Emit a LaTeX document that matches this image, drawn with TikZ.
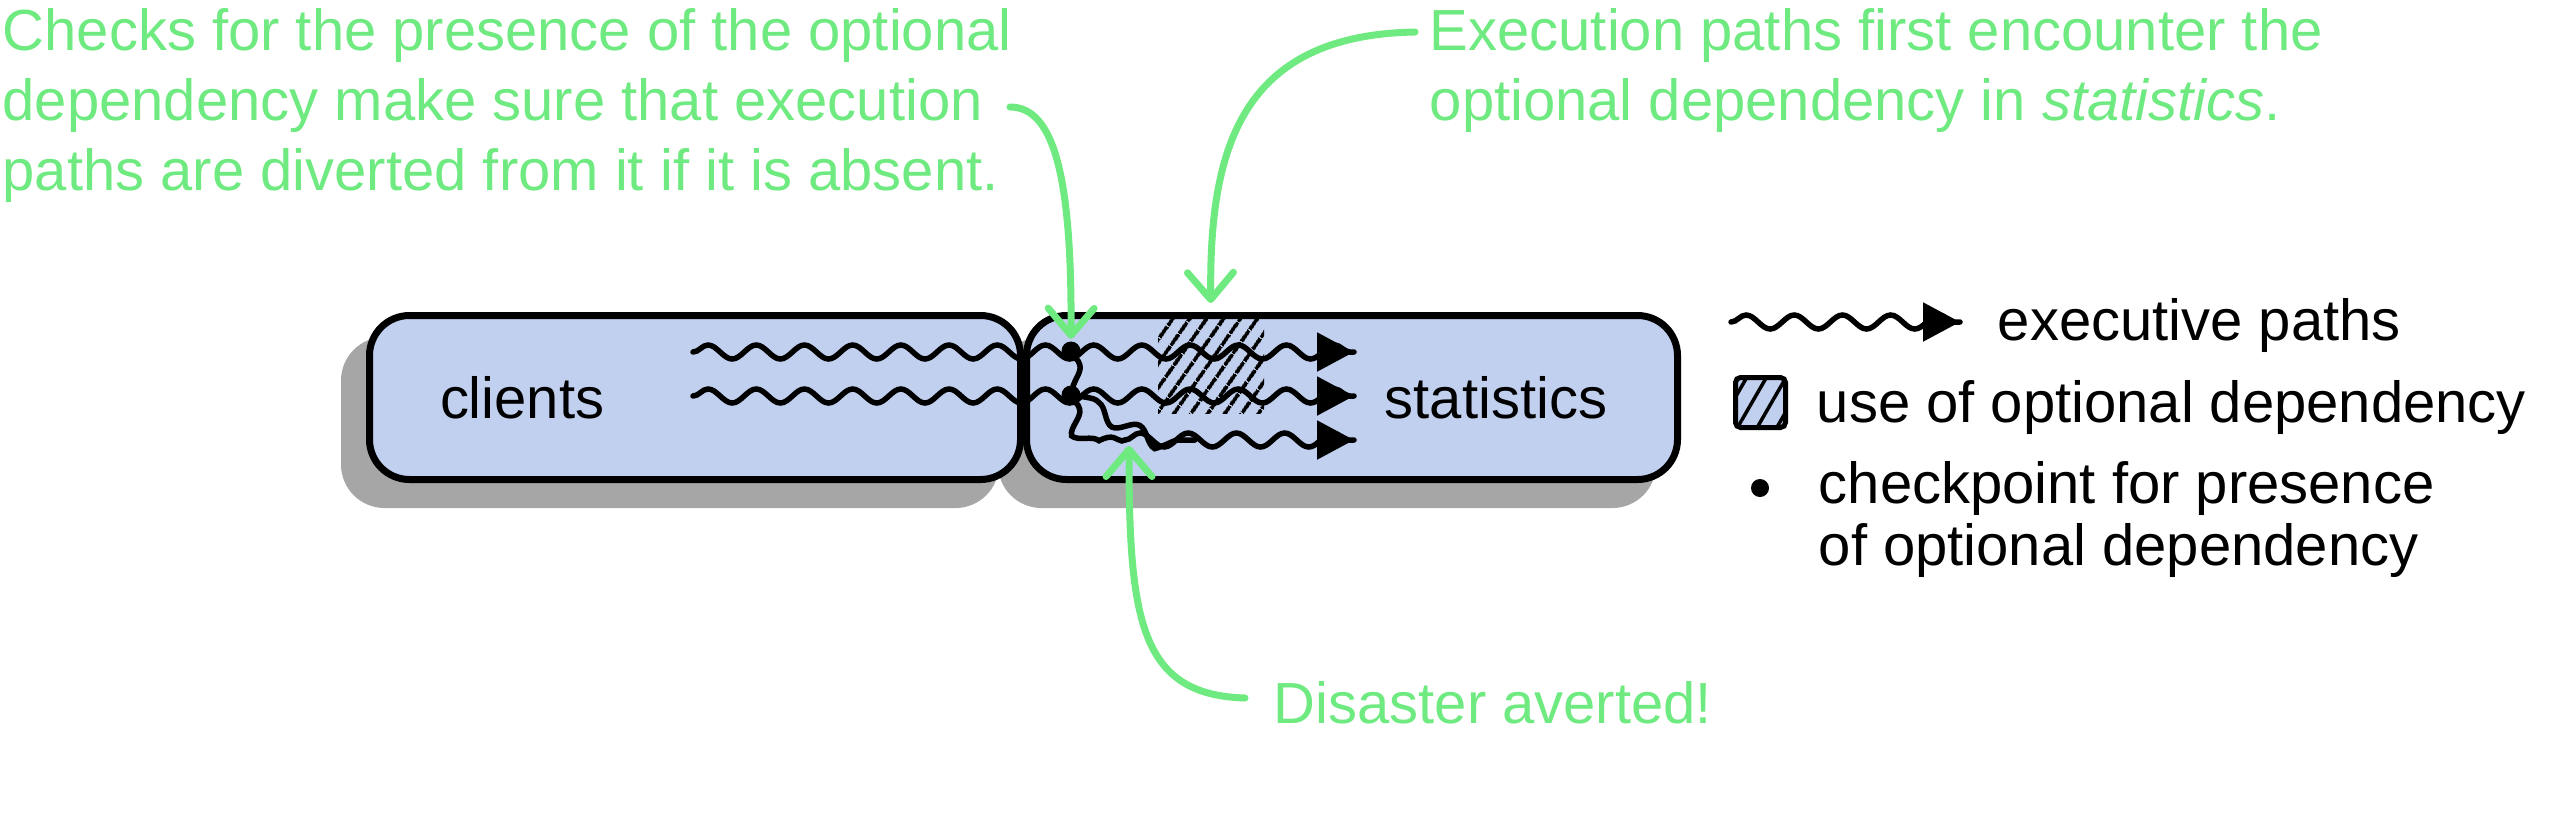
\documentclass[tikz,border=0pt]{standalone}
\usepackage{fontspec}
\setmainfont{Liberation Sans}
\usetikzlibrary{arrows.meta,decorations.pathmorphing,patterns.meta,backgrounds,positioning}

\definecolor{boxblue}{RGB}{193,208,238}
\definecolor{shadowgray}{RGB}{166,166,166}
\definecolor{notegreen}{RGB}{110,234,128}

\begin{document}
\begin{tikzpicture}[
        > = {Triangle[length=0.37cm, width=0.38cm]}, % arrow head style
        line width = 0.055cm, % line style
        font = \fontsize{16.5}{19.9}\selectfont,
        node distance = 6.57cm % distance between modules
      ]

      \tikzstyle{module}=[rectangle, rounded corners=0.4cm, draw=black, line width=0.07cm, fill=boxblue, minimum width=6.51cm, minimum height=1.64cm, inner xsep=0.7cm]
      \tikzstyle{wave}=[line cap=round, decorate, decoration={snake, amplitude=0.07cm, segment length=0.482cm}]
      \tikzstyle{checkpoint}=[circle, fill=black, inner sep=0pt, minimum size=0.19cm]
      \tikzstyle{usage}=[rectangle, inner sep=0pt, minimum width=1.06cm, minimum height=0.94cm, pattern={Lines[angle=55, distance=0.14cm, line width=0.04cm]}]
      \tikzstyle{note}=[text=notegreen, align=left, inner sep=0pt]
      \tikzstyle{callout}=[draw=notegreen, line width=0.07cm, line cap=round, -{Straight Barb[length=0.27cm, width=0.46cm, round]}]
      \tikzstyle{legend}=[anchor=base west, inner sep=0pt]

      \useasboundingbox (0,0) rectangle (25.62,-8.19);

      % the two modules
      \node[module, text width=5.1cm, align=left] (clients) at (6.95,-3.975) {clients};
      \node[module, text width=5.1cm, align=right] (stats) [right of=clients] {statistics};

      \begin{scope}[on background layer]
        \node[module, fill=shadowgray, draw=shadowgray] (clientsshadow) at ([shift={(-0.25,-0.25)}]clients.center) {};
        \node[module, fill=shadowgray, draw=shadowgray] (statsshadow) at ([shift={(-0.25,-0.25)}]stats.center) {};
      \end{scope}

      \node[usage] (use) at (12.11,-3.66) {};

      \coordinate (in1) at (6.93,-3.52);
      \coordinate (in2) at (6.93,-3.96);
      \coordinate (out1) at (13.54,-3.52);
      \coordinate (out2) at (13.54,-3.96);
      \coordinate (out3) at (13.54,-4.40);
      \coordinate (bend) at (11.25,-4.40);
      \coordinate (merge) at (11.95,-4.40);

      \node[checkpoint] (chk1) at (10.71,-3.51) {};
      \node[checkpoint] (chk2) at (10.71,-3.95) {};

      % execution paths
      \draw[wave] (in1) -- (out1);
      \draw[wave] (in2) -- (out2);
      \draw[wave] (chk1.center) .. controls (10.76,-3.9) and (10.95,-4.0) .. (11.25,-4.15) .. controls (11.55,-4.3) and (11.7,-4.4) .. (merge);
      \draw[wave] (chk2.center) .. controls (10.75,-4.3) and (10.85,-4.4) .. (bend);
      \draw[wave] (bend) -- (out3);
      \draw[->] ([xshift=-0.37cm]out1) -- (out1);
      \draw[->] ([xshift=-0.37cm]out2) -- (out2);
      \draw[->] ([xshift=-0.37cm]out3) -- (out3);

      % legend
      \coordinate (lgwave) at (17.31,-3.22);
      \coordinate (lgtip) at (19.60,-3.22);
      \draw[wave] (lgwave) -- (lgtip);
      \draw[->] ([xshift=-0.37cm]lgtip) -- (lgtip);
      \node[legend] (lgexec) at (19.95,-3.40) {executive paths};
      \node[rectangle, draw=black, line width=0.05cm, rounded corners=0.05cm, minimum size=0.5cm, preaction={fill=boxblue}, pattern={Lines[angle=60, distance=0.17cm, line width=0.035cm]}] (lgbox) at (17.605,-4.025) {};
      \node[legend] (lguse) at (18.14,-4.22) {use of optional dependency};
      \node[checkpoint, minimum size=0.18cm] (lgdot) at (17.60,-4.88) {};
      \node[legend] (lgchk) at (18.16,-5.03) {checkpoint for presence};
      \node[legend] (lgchk2) at (18.16,-5.65) {of optional dependency};

      % notes
      \node[note, anchor=north west] (checknote) at (0,-0.06) {Checks for the presence of the optional\\dependency make sure that execution\\paths are diverted from it if it is absent.};
      \node[note, anchor=north west] (firstnote) at (14.27,-0.06) {Execution paths first encounter the\\optional dependency in \textit{statistics}.};
      \node[note, anchor=base west] (avertnote) at (12.71,-7.23) {Disaster averted!};

      \coordinate (from1) at (10.10,-1.07);
      \coordinate (from2) at (14.15,-0.32);
      \coordinate (from3) at (12.45,-6.98);
      \coordinate (averted) at (11.29,-4.46);
      \draw[callout] (from1) .. controls (10.55,-1.07) and (10.72,-1.8) .. (chk1.north);
      \draw[callout, shorten >=0.14cm] (from2) .. controls (12.4,-0.35) and (12.09,-1.5) .. (use.north);
      \draw[callout] (from3) .. controls (11.4,-6.95) and (11.29,-6.2) .. (averted);

    \end{tikzpicture}
\end{document}
